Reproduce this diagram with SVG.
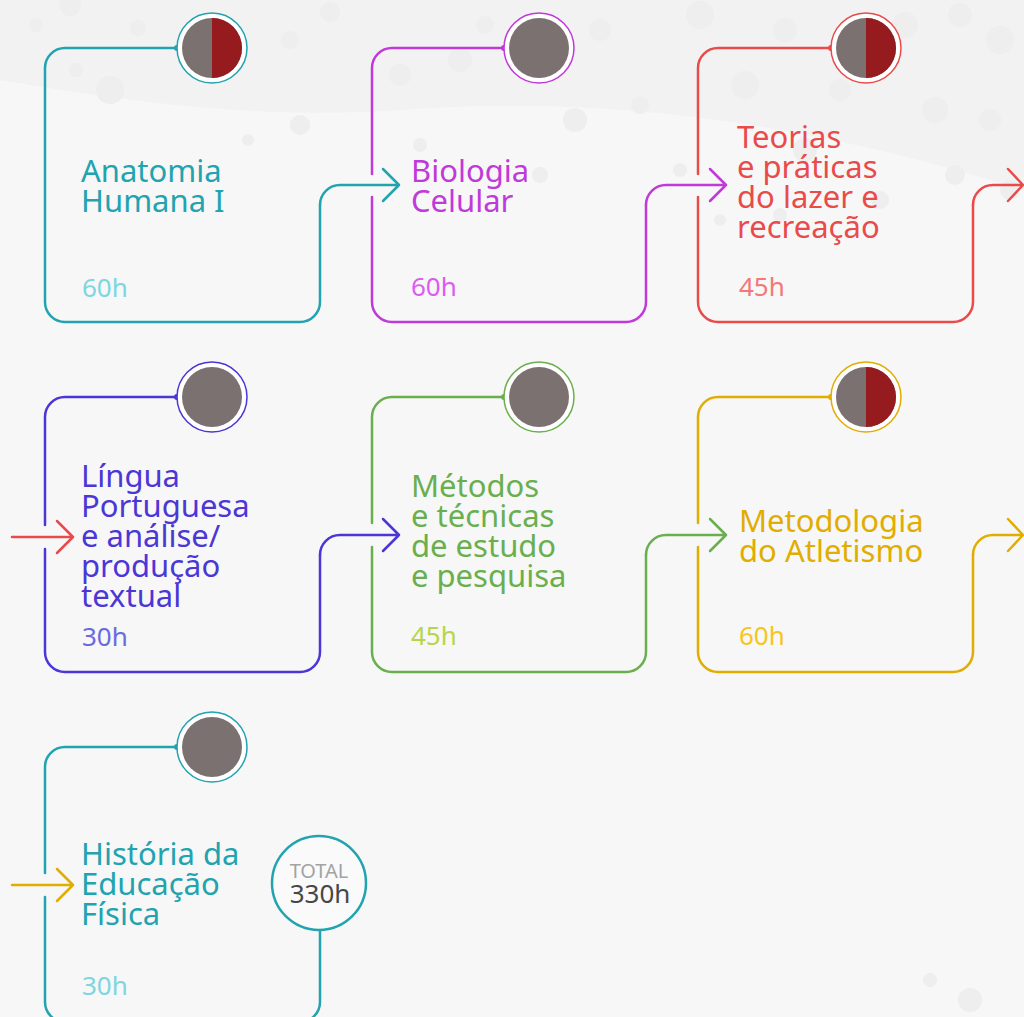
<svg xmlns="http://www.w3.org/2000/svg" width="1024" height="1017" viewBox="0 0 1024 1017">
<style>
.f{fill:none;stroke-width:2.5;stroke-linecap:round;stroke-linejoin:round}
.t{font-family:"Noto Sans","Open Sans",sans-serif;font-size:31px}
.h{font-family:"Noto Sans","Open Sans",sans-serif;font-size:26px}
.ring{fill:#ffffff;stroke-width:1.5}
.g{fill:#7a7170}
.r{fill:#951b1f}
.bg{fill:#ececec}
.teal{stroke:#21a3b0}.tealF{fill:#21a3b0}.tealH{fill:#7dd6e0}
.mag{stroke:#c03ad9}.magF{fill:#c03ad9}.magH{fill:#dc5cf2}
.red{stroke:#e94b4b}.redF{fill:#e94b4b}.redH{fill:#f47878}
.blu{stroke:#4b36d6}.bluF{fill:#4b36d6}.bluH{fill:#6a6ae0}
.grn{stroke:#6aaf4d}.grnF{fill:#6aaf4d}.grnH{fill:#b5d64a}
.yel{stroke:#e1ad00}.yelF{fill:#e1ad00}.yelH{fill:#f6c521}
</style>
<rect width="1024" height="1017" fill="#f7f7f7"/>
<g id="background" opacity="0.8">
<path d="M0 0 H1024 V190 C800 120 600 95 400 110 C250 120 120 100 0 80 Z" fill="#f1f1f1"/>
<circle class="bg" cx="70" cy="5" r="11"/><circle class="bg" cx="36" cy="25" r="7"/><circle class="bg" cx="138" cy="28" r="8"/>
<circle class="bg" cx="110" cy="90" r="14"/><circle class="bg" cx="76" cy="70" r="7"/><circle class="bg" cx="290" cy="40" r="9"/>
<circle class="bg" cx="300" cy="125" r="10"/><circle class="bg" cx="248" cy="140" r="6"/><circle class="bg" cx="330" cy="12" r="10"/>
<circle class="bg" cx="400" cy="75" r="11"/><circle class="bg" cx="460" cy="60" r="12"/><circle class="bg" cx="485" cy="25" r="9"/>
<circle class="bg" cx="575" cy="120" r="12"/><circle class="bg" cx="600" cy="30" r="11"/><circle class="bg" cx="640" cy="105" r="9"/>
<circle class="bg" cx="700" cy="15" r="14"/><circle class="bg" cx="745" cy="85" r="14"/><circle class="bg" cx="785" cy="30" r="12"/>
<circle class="bg" cx="805" cy="150" r="12"/><circle class="bg" cx="840" cy="90" r="11"/><circle class="bg" cx="905" cy="25" r="13"/>
<circle class="bg" cx="935" cy="110" r="13"/><circle class="bg" cx="960" cy="15" r="12"/><circle class="bg" cx="1000" cy="40" r="14"/>
<circle class="bg" cx="990" cy="120" r="11"/><circle class="bg" cx="955" cy="175" r="10"/><circle class="bg" cx="880" cy="200" r="9"/>
<circle class="bg" cx="1010" cy="190" r="10"/><circle class="bg" cx="780" cy="215" r="7"/><circle class="bg" cx="720" cy="220" r="6"/>
<circle class="bg" cx="540" cy="175" r="8"/><circle class="bg" cx="420" cy="145" r="7"/><circle class="bg" cx="680" cy="170" r="7"/>
<circle class="bg" cx="970" cy="1000" r="12"/><circle class="bg" cx="930" cy="980" r="7"/>
</g>
<g id="connectors">
<path class="f teal" d="M320 205 A20 20 0 0 1 340 185 H399 M383 169 L399 185 L383 201"/>
<path class="f mag" d="M646 205 A20 20 0 0 1 666 185 H726 M710 169 L726 185 L710 201"/>
<path class="f red" d="M973 205 A20 20 0 0 1 993 185 H1023 M1008 169 L1023 185 L1008 201"/>
<path class="f red" d="M12 537 H73 M57 521 L73 537 L57 553"/>
<path class="f blu" d="M320 555 A20 20 0 0 1 340 535 H399 M383 519 L399 535 L383 551"/>
<path class="f grn" d="M646 555 A20 20 0 0 1 666 535 H726 M710 519 L726 535 L710 551"/>
<path class="f yel" d="M973 555 A20 20 0 0 1 993 535 H1023 M1008 519 L1023 535 L1008 551"/>
<path class="f yel" d="M12 885 H73 M57 869 L73 885 L57 901"/>
</g>
<g id="node-anatomia">
<path class="f teal" d="M177 48 H65 A20 20 0 0 0 45 68 V302 A20 20 0 0 0 65 322 H300 A20 20 0 0 0 320 302 V205"/>
<circle class="tealF" cx="177" cy="48" r="3"/>
<circle class="ring teal" cx="212" cy="48" r="35"/>
<circle class="g" cx="212" cy="48" r="30"/>
<path class="r" d="M212 18 A30 30 0 0 1 212 78 Z"/>
<text class="t tealF" x="81" y="182">Anatomia</text>
<text class="t tealF" x="81" y="212">Humana I</text>
<text class="h tealH" x="82" y="297">60h</text>
</g>
<g id="node-biologia">
<path class="f mag" d="M504 48 H392 A20 20 0 0 0 372 68 V174 M372 197 V302 A20 20 0 0 0 392 322 H626 A20 20 0 0 0 646 302 V205"/>
<circle class="magF" cx="504" cy="48" r="3"/>
<circle class="ring mag" cx="539" cy="48" r="35"/>
<circle class="g" cx="539" cy="48" r="30"/>
<text class="t magF" x="411" y="182">Biologia</text>
<text class="t magF" x="411" y="212">Celular</text>
<text class="h magH" x="411" y="296">60h</text>
</g>
<g id="node-teorias">
<path class="f red" d="M831 48 H718 A20 20 0 0 0 698 68 V174 M698 197 V302 A20 20 0 0 0 718 322 H953 A20 20 0 0 0 973 302 V205"/>
<circle class="redF" cx="831" cy="48" r="3"/>
<circle class="ring red" cx="866" cy="48" r="35"/>
<circle class="g" cx="866" cy="48" r="30"/>
<path class="r" d="M866 18 A30 30 0 0 1 866 78 Z"/>
<text class="t redF" x="737" y="148">Teorias</text>
<text class="t redF" x="737" y="178">e práticas</text>
<text class="t redF" x="737" y="208">do lazer e</text>
<text class="t redF" x="737" y="238">recreação</text>
<text class="h redH" x="739" y="296">45h</text>
</g>
<g id="node-lingua">
<path class="f blu" d="M177 397 H65 A20 20 0 0 0 45 417 V525 M45 549 V652 A20 20 0 0 0 65 672 H300 A20 20 0 0 0 320 652 V555"/>
<circle class="bluF" cx="177" cy="397" r="3"/>
<circle class="ring blu" cx="212" cy="397" r="35"/>
<circle class="g" cx="212" cy="397" r="30"/>
<text class="t bluF" x="81" y="487">Língua</text>
<text class="t bluF" x="81" y="517">Portuguesa</text>
<text class="t bluF" x="81" y="547">e análise/</text>
<text class="t bluF" x="81" y="577">produção</text>
<text class="t bluF" x="81" y="607">textual</text>
<text class="h bluH" x="82" y="646">30h</text>
</g>
<g id="node-metodos">
<path class="f grn" d="M504 397 H392 A20 20 0 0 0 372 417 V523 M372 547 V652 A20 20 0 0 0 392 672 H626 A20 20 0 0 0 646 652 V555"/>
<circle class="grnF" cx="504" cy="397" r="3"/>
<circle class="ring grn" cx="539" cy="397" r="35"/>
<circle class="g" cx="539" cy="397" r="30"/>
<text class="t grnF" x="411" y="497">Métodos</text>
<text class="t grnF" x="411" y="527">e técnicas</text>
<text class="t grnF" x="411" y="557">de estudo</text>
<text class="t grnF" x="411" y="587">e pesquisa</text>
<text class="h grnH" x="411" y="645">45h</text>
</g>
<g id="node-atletismo">
<path class="f yel" d="M831 397 H718 A20 20 0 0 0 698 417 V523 M698 547 V652 A20 20 0 0 0 718 672 H953 A20 20 0 0 0 973 652 V555"/>
<circle class="yelF" cx="831" cy="397" r="3"/>
<circle class="ring yel" cx="866" cy="397" r="35"/>
<circle class="g" cx="866" cy="397" r="30"/>
<path class="r" d="M866 367 A30 30 0 0 1 866 427 Z"/>
<text class="t yelF" x="739" y="532">Metodologia</text>
<text class="t yelF" x="739" y="562">do Atletismo</text>
<text class="h yelH" x="739" y="645">60h</text>
</g>
<g id="node-historia">
<path class="f teal" d="M177 747 H65 A20 20 0 0 0 45 767 V873 M45 897 V1002 A20 20 0 0 0 65 1022 H300 A20 20 0 0 0 320 1002 V931"/>
<circle class="tealF" cx="177" cy="747" r="3"/>
<circle class="ring teal" cx="212" cy="747" r="35"/>
<circle class="g" cx="212" cy="747" r="30"/>
<text class="t tealF" x="81" y="865">História da</text>
<text class="t tealF" x="81" y="895">Educação</text>
<text class="t tealF" x="81" y="925">Física</text>
<text class="h tealH" x="82" y="995">30h</text>
</g>
<g id="node-total">
<circle cx="319" cy="883" r="47" fill="#fafafa" stroke="#21a3b0" stroke-width="2.5"/>
<text x="319" y="878" text-anchor="middle" font-family="Noto Sans, Open Sans, sans-serif" font-size="20" fill="#a3a3a3">TOTAL</text>
<text x="320" y="903" text-anchor="middle" font-family="Noto Sans, Open Sans, sans-serif" font-size="26" fill="#474747">330h</text>
</g>
</svg>
